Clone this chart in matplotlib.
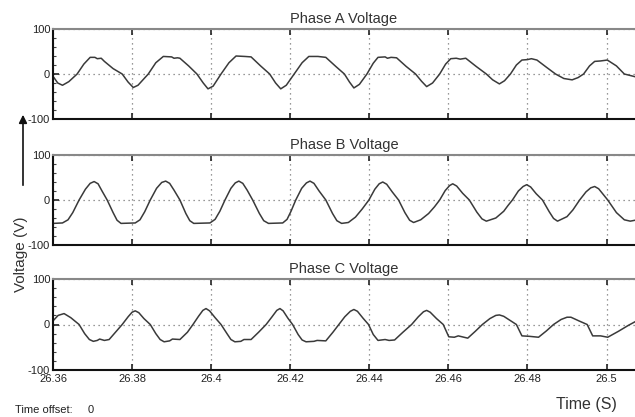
import matplotlib
matplotlib.use('Agg')
import matplotlib.pyplot as plt
from matplotlib.patches import FancyArrowPatch
from matplotlib.ticker import MultipleLocator

plt.rcParams['font.family'] = ['Liberation Sans', 'DejaVu Sans']

# time axis ticks
x_ticks = [26.36, 26.38, 26.40, 26.42, 26.44, 26.46, 26.48, 26.50]
x_tick_labels = ['26.36', '26.38', '26.4', '26.42', '26.44', '26.46', '26.48', '26.5']
y_ticks = [-100, 0, 100]
y_tick_labels = ['-100', '0', '100']
titles = ['Phase A Voltage', 'Phase B Voltage', 'Phase C Voltage']

# Phase A samples (s, V)
t_a = [26.3600, 26.3612, 26.3624, 26.3640, 26.3661, 26.3678, 26.3694, 26.3706, 26.3712, 26.3722,
       26.3730, 26.3752, 26.3775, 26.3790, 26.3803, 26.3815, 26.3841, 26.3860, 26.3879, 26.3900,
       26.3906, 26.3915, 26.3921, 26.3943, 26.3964, 26.3980, 26.3992, 26.4005, 26.4025, 26.4045,
       26.4063, 26.4085, 26.4101, 26.4125, 26.4148, 26.4163, 26.4176, 26.4190, 26.4210, 26.4230,
       26.4247, 26.4270, 26.4290, 26.4315, 26.4337, 26.4350, 26.4361, 26.4375, 26.4394, 26.4410,
       26.4422, 26.4440, 26.4446, 26.4455, 26.4469, 26.4493, 26.4517, 26.4532, 26.4545, 26.4560,
       26.4578, 26.4593, 26.4606, 26.4620, 26.4630, 26.4644, 26.4670, 26.4696, 26.4712, 26.4729,
       26.4742, 26.4757, 26.4772, 26.4786, 26.4800, 26.4810, 26.4824, 26.4848, 26.4871, 26.4892,
       26.4913, 26.4928, 26.4942, 26.4957, 26.4970, 26.4985, 26.5002, 26.5025, 26.5045, 26.5072]
v_a = [-5, -20, -25, -17, 0, 22, 37, 37, 34, 35,
       28, 12, 0, -18, -30, -25, 0, 25, 39, 38,
       35, 36, 35, 18, 0, -20, -33, -27, 0, 25,
       40, 39, 38, 18, 0, -20, -33, -25, 0, 25,
       39, 39, 37, 17, 0, -18, -31, -23, 0, 24,
       37, 38, 35, 37, 36, 17, 0, -16, -28, -20,
       0, 22, 34, 35, 33, 35, 17, 0, -13, -22,
       -15, 0, 20, 31, 32, 34, 31, 15, 0, -10,
       -13, -8, 0, 18, 28, 29, 31, 18, 0, -6]

# Phase B samples
t_b = [26.3600, 26.3624, 26.3638, 26.3650, 26.3666, 26.3682, 26.3694, 26.3704, 26.3714, 26.3724,
       26.3737, 26.3752, 26.3762, 26.3772, 26.3808, 26.3820, 26.3832, 26.3846, 26.3862, 26.3875,
       26.3885, 26.3895, 26.3906, 26.3921, 26.3936, 26.3946, 26.3956, 26.3997, 26.4010, 26.4022,
       26.4035, 26.4050, 26.4061, 26.4070, 26.4080, 26.4091, 26.4105, 26.4122, 26.4133, 26.4145,
       26.4181, 26.4192, 26.4202, 26.4214, 26.4229, 26.4241, 26.4250, 26.4260, 26.4273, 26.4290,
       26.4307, 26.4318, 26.4330, 26.4347, 26.4365, 26.4382, 26.4399, 26.4414, 26.4425, 26.4434,
       26.4444, 26.4458, 26.4474, 26.4490, 26.4502, 26.4512, 26.4530, 26.4550, 26.4565, 26.4578,
       26.4592, 26.4603, 26.4611, 26.4621, 26.4636, 26.4653, 26.4672, 26.4685, 26.4696, 26.4720,
       26.4740, 26.4751, 26.4762, 26.4777, 26.4789, 26.4798, 26.4808, 26.4822, 26.4838, 26.4855,
       26.4866, 26.4876, 26.4900, 26.4915, 26.4932, 26.4948, 26.4960, 26.4970, 26.4980, 26.4992,
       26.5003, 26.5025, 26.5045, 26.5060, 26.5072]
v_b = [-52, -51, -44, -28, 0, 24, 37, 41, 36, 20,
       0, -28, -45, -52, -51, -44, -26, 0, 26, 39,
       42, 37, 22, 0, -30, -46, -52, -51, -43, -25,
       0, 26, 38, 42, 37, 22, 0, -30, -46, -52,
       -51, -43, -25, 0, 26, 38, 42, 37, 20, 0,
       -30, -46, -52, -50, -38, -20, 0, 24, 36, 40,
       35, 18, 0, -28, -45, -50, -44, -30, -15, 0,
       21, 32, 36, 31, 15, 0, -27, -42, -47, -40,
       -25, -12, 0, 20, 30, 34, 29, 14, 0, -26,
       -41, -47, -37, -22, 0, 18, 27, 30, 25, 12,
       0, -28, -44, -47, -45]

# Phase C samples
t_c = [26.3600, 26.3613, 26.3628, 26.3645, 26.3666, 26.3680, 26.3692, 26.3702, 26.3712, 26.3718,
       26.3730, 26.3742, 26.3760, 26.3775, 26.3790, 26.3800, 26.3808, 26.3817, 26.3830, 26.3846,
       26.3860, 26.3871, 26.3881, 26.3895, 26.3902, 26.3921, 26.3940, 26.3954, 26.3968, 26.3979,
       26.3987, 26.3996, 26.4010, 26.4025, 26.4040, 26.4050, 26.4060, 26.4075, 26.4083, 26.4101,
       26.4120, 26.4139, 26.4154, 26.4166, 26.4174, 26.4182, 26.4194, 26.4206, 26.4220, 26.4230,
       26.4240, 26.4260, 26.4268, 26.4290, 26.4308, 26.4323, 26.4338, 26.4352, 26.4361, 26.4370,
       26.4384, 26.4398, 26.4410, 26.4422, 26.4440, 26.4450, 26.4464, 26.4485, 26.4507, 26.4524,
       26.4537, 26.4545, 26.4554, 26.4570, 26.4587, 26.4601, 26.4615, 26.4625, 26.4649, 26.4668,
       26.4686, 26.4705, 26.4720, 26.4729, 26.4740, 26.4756, 26.4772, 26.4786, 26.4805, 26.4828,
       26.4848, 26.4866, 26.4885, 26.4900, 26.4910, 26.4930, 26.4951, 26.4965, 26.4985, 26.5003,
       26.5030, 26.5055, 26.5072]
v_c = [8, 20, 24, 15, 0, -20, -33, -37, -35, -32,
       -35, -33, -15, 0, 17, 27, 30, 26, 13, 0,
       -20, -33, -38, -36, -32, -33, -17, 0, 18, 31,
       35, 30, 15, 0, -20, -33, -38, -37, -33, -33,
       -17, 0, 17, 31, 35, 30, 14, 0, -22, -34,
       -38, -37, -35, -36, -17, 0, 17, 29, 33, 29,
       14, 0, -22, -35, -33, -35, -34, -17, 0, 17,
       28, 31, 27, 13, 0, -27, -28, -25, -30, -15,
       0, 13, 20, 21, 18, 9, 0, -25, -26, -28,
       -14, 0, 11, 16, 16, 8, 0, -25, -25, -28,
       -15, -2, 6]

series = [(t_a, v_a), (t_b, v_b), (t_c, v_c)]

W, H = 635, 417
fig = plt.figure(figsize=(W / 100, H / 100), dpi=100)

# axes boxes in pixels: (top, bottom)
boxes = [(29, 119), (155, 245), (279, 370)]
left_px = 53

for i, ((t, v), (top, bot)) in enumerate(zip(series, boxes)):
    ax = fig.add_axes([left_px / W, 1 - bot / H, 1 - left_px / W, (bot - top) / H])
    ax.plot(t, v, color='#3a3a3a', lw=1.1)
    ax.set_xlim(26.36, 26.5072)
    ax.set_ylim(-100, 100)
    ax.set_xticks(x_ticks)
    ax.set_yticks(y_ticks)
    ax.set_yticklabels(y_tick_labels)
    if i == 2:
        ax.set_xticklabels(x_tick_labels)
    else:
        ax.set_xticklabels([])
    ax.yaxis.set_minor_locator(MultipleLocator(20))
    ax.tick_params(which='major', direction='in', top=True, length=4, width=1.2,
                   labelsize=8, pad=2, colors='#222222')
    ax.tick_params(axis='x', which='major', pad=3)
    ax.tick_params(which='minor', direction='in', length=2, width=0.8, colors='#444444')
    ax.tick_params(axis='x', which='minor', bottom=False, top=False)
    ax.grid(True, which='major', color='#777777', lw=0.9, linestyle=(0, (1, 3)))
    ax.spines['right'].set_visible(False)
    ax.spines['top'].set_color('#888888')
    ax.spines['top'].set_linewidth(1.5)
    ax.spines['left'].set_color('#111111')
    ax.spines['left'].set_linewidth(1.5)
    ax.spines['bottom'].set_color('#111111')
    ax.spines['bottom'].set_linewidth(1.5)
    ax.set_title(titles[i], fontsize=10.5, color='#333333', pad=4)

# y label with arrow
fig.text(21 / W, 1 - 254 / H, 'Voltage (V)', rotation=90, ha='center', va='center',
         fontsize=11, color='#333333')
fig.patches.append(FancyArrowPatch(
    (23 / W, 1 - 188 / H), (23 / W, 1 - 112 / H), transform=fig.transFigure,
    arrowstyle='-|>', mutation_scale=12, color='#111111', lw=1.2))

fig.text(586 / W, 1 - 404 / H, 'Time (S)', ha='center', va='center', fontsize=11.5, color='#333333')
fig.text(15 / W, 1 - 410 / H, 'Time offset:', ha='left', va='center', fontsize=8, color='#222222')
fig.text(88 / W, 1 - 410 / H, '0', ha='left', va='center', fontsize=8, color='#222222')

fig.savefig('out.png', dpi=100, facecolor='white')
